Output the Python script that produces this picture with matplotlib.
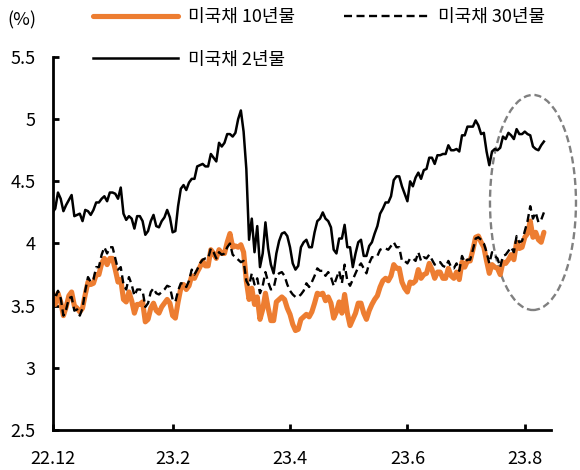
import numpy as np
import pandas as pd
import matplotlib
matplotlib.use('Agg')
import matplotlib.pyplot as plt
from matplotlib.patches import Ellipse

plt.rcParams['font.family'] = ['Noto Sans CJK KR', 'DejaVu Sans']

# daily (weekday) yields, Dec 2022 - Aug 10 2023, by month
dec2 = [4.25, 4.28, 4.41, 4.36, 4.26, 4.31, 4.35, 4.39, 4.22, 4.23, 4.24, 4.18, 4.27, 4.26, 4.23, 4.27, 4.33, 4.33, 4.36, 4.38, 4.34, 4.41]
jan2 = [4.41, 4.40, 4.36, 4.45, 4.24, 4.19, 4.22, 4.20, 4.12, 4.22, 4.22, 4.18, 4.07, 4.10, 4.18, 4.23, 4.14, 4.13, 4.18, 4.21, 4.27, 4.21]
feb2 = [4.09, 4.10, 4.30, 4.44, 4.47, 4.43, 4.49, 4.52, 4.52, 4.62, 4.63, 4.64, 4.62, 4.62, 4.72, 4.69, 4.66, 4.81, 4.78, 4.81]
mar2 = [4.88, 4.88, 4.86, 4.89, 5.00, 5.07, 4.90, 4.60, 4.03, 4.20, 3.93, 4.14, 3.81, 3.92, 4.17, 3.96, 3.83, 3.76, 3.92, 4.02, 4.08, 4.09, 4.06]
apr2 = [3.97, 3.84, 3.79, 3.82, 3.97, 4.01, 4.03, 3.97, 3.97, 4.09, 4.18, 4.20, 4.25, 4.20, 4.18, 4.13, 3.95, 3.92, 4.04, 4.04]
may2 = [4.15, 3.97, 3.97, 3.81, 3.92, 4.01, 4.03, 3.90, 3.90, 3.98, 4.01, 4.08, 4.14, 4.24, 4.28, 4.33, 4.33, 4.38, 4.51, 4.54, 4.54, 4.46, 4.40]
jun2 = [4.34, 4.50, 4.46, 4.53, 4.57, 4.52, 4.59, 4.60, 4.69, 4.69, 4.64, 4.71, 4.71, 4.72, 4.72, 4.79, 4.75, 4.75, 4.76, 4.74, 4.87, 4.87]
jul2 = [4.94, 4.94, 4.94, 4.99, 4.95, 4.88, 4.89, 4.74, 4.63, 4.74, 4.76, 4.75, 4.77, 4.86, 4.84, 4.89, 4.87, 4.84, 4.92, 4.88, 4.88]
aug2 = [4.90, 4.88, 4.87, 4.78, 4.76, 4.75, 4.79, 4.82]

dec10 = [3.53, 3.51, 3.60, 3.53, 3.42, 3.49, 3.58, 3.61, 3.50, 3.48, 3.45, 3.48, 3.59, 3.69, 3.67, 3.68, 3.75, 3.75, 3.84, 3.88, 3.83, 3.88]
jan10 = [3.88, 3.79, 3.69, 3.71, 3.55, 3.53, 3.61, 3.54, 3.44, 3.51, 3.51, 3.53, 3.37, 3.39, 3.48, 3.52, 3.46, 3.44, 3.49, 3.52, 3.55, 3.52]
feb10 = [3.42, 3.40, 3.53, 3.64, 3.67, 3.63, 3.66, 3.74, 3.72, 3.77, 3.81, 3.86, 3.82, 3.82, 3.95, 3.92, 3.88, 3.95, 3.92, 3.92]
mar10 = [4.01, 4.08, 3.97, 3.98, 3.97, 3.99, 3.93, 3.70, 3.55, 3.64, 3.51, 3.57, 3.39, 3.47, 3.60, 3.48, 3.38, 3.38, 3.53, 3.55, 3.57, 3.55, 3.48]
apr10 = [3.43, 3.35, 3.30, 3.31, 3.39, 3.41, 3.43, 3.41, 3.45, 3.52, 3.60, 3.59, 3.60, 3.54, 3.57, 3.52, 3.40, 3.45, 3.53, 3.44]
may10 = [3.59, 3.44, 3.34, 3.39, 3.44, 3.52, 3.52, 3.44, 3.39, 3.46, 3.51, 3.55, 3.58, 3.65, 3.70, 3.72, 3.70, 3.74, 3.83, 3.80, 3.80, 3.69, 3.64]
jun10 = [3.61, 3.69, 3.68, 3.70, 3.79, 3.72, 3.75, 3.76, 3.84, 3.79, 3.72, 3.77, 3.77, 3.72, 3.72, 3.80, 3.74, 3.72, 3.77, 3.71, 3.85, 3.81]
jul10 = [3.86, 3.86, 3.95, 4.05, 4.06, 4.01, 3.97, 3.86, 3.76, 3.83, 3.81, 3.80, 3.75, 3.85, 3.84, 3.87, 3.91, 3.87, 4.01, 3.96, 3.97]
aug10 = [4.05, 4.08, 4.18, 4.05, 4.09, 4.03, 4.01, 4.09]

dec30 = [3.64, 3.56, 3.62, 3.56, 3.42, 3.47, 3.56, 3.57, 3.46, 3.47, 3.42, 3.48, 3.62, 3.73, 3.69, 3.71, 3.81, 3.81, 3.91, 3.97, 3.92, 3.97]
jan30 = [3.97, 3.88, 3.79, 3.81, 3.67, 3.63, 3.73, 3.67, 3.58, 3.63, 3.63, 3.62, 3.49, 3.52, 3.61, 3.64, 3.60, 3.59, 3.61, 3.63, 3.66, 3.65]
feb30 = [3.55, 3.53, 3.62, 3.68, 3.68, 3.65, 3.70, 3.79, 3.75, 3.79, 3.84, 3.87, 3.88, 3.88, 3.96, 3.93, 3.88, 3.93, 3.91, 3.92]
mar30 = [3.97, 4.00, 3.91, 3.89, 3.87, 3.85, 3.86, 3.70, 3.66, 3.76, 3.67, 3.72, 3.60, 3.66, 3.77, 3.69, 3.63, 3.64, 3.74, 3.76, 3.77, 3.74, 3.67]
apr30 = [3.62, 3.59, 3.57, 3.57, 3.59, 3.62, 3.68, 3.65, 3.69, 3.74, 3.80, 3.78, 3.78, 3.74, 3.77, 3.73, 3.66, 3.72, 3.78, 3.68]
may30 = [3.83, 3.70, 3.66, 3.71, 3.76, 3.81, 3.84, 3.80, 3.76, 3.84, 3.89, 3.89, 3.90, 3.95, 3.96, 3.96, 3.95, 3.98, 4.01, 3.97, 3.97, 3.86, 3.86]
jun30 = [3.84, 3.88, 3.88, 3.86, 3.93, 3.86, 3.89, 3.88, 3.91, 3.87, 3.83, 3.85, 3.85, 3.82, 3.81, 3.86, 3.81, 3.80, 3.84, 3.78, 3.90, 3.85]
jul30 = [3.87, 3.87, 3.95, 4.04, 4.05, 4.03, 4.00, 3.93, 3.84, 3.93, 3.90, 3.88, 3.81, 3.90, 3.91, 3.94, 3.97, 3.93, 4.06, 4.01, 4.02]
aug30 = [4.10, 4.18, 4.30, 4.20, 4.25, 4.17, 4.19, 4.25]

y2 = np.array(dec2 + jan2 + feb2 + mar2 + apr2 + may2 + jun2 + jul2 + aug2)
y10 = np.array(dec10 + jan10 + feb10 + mar10 + apr10 + may10 + jun10 + jul10 + aug10)
y30 = np.array(dec30 + jan30 + feb30 + mar30 + apr30 + may30 + jun30 + jul30 + aug30)

dates = pd.bdate_range('2022-12-01', '2023-08-10')
x = np.arange(len(dates))

tick_months = [(2022, 12), (2023, 2), (2023, 4), (2023, 6), (2023, 8)]
tick_pos = [int(np.argmax((dates.year == yy) & (dates.month == mm))) for yy, mm in tick_months]
tick_lab = [f"{yy % 100}.{mm}" for yy, mm in tick_months]

fig = plt.figure(figsize=(5.8, 4.7), dpi=100)
ax = fig.add_axes([52.5 / 580, 1 - 430 / 470, (551 - 52.5) / 580, (430 - 57) / 470])

h10, = ax.plot(x, y10, color='#ED7D31', lw=3.7, solid_joinstyle='round',
               solid_capstyle='round', label='미국채 10년물')
h30, = ax.plot(x, y30, color='black', lw=1.7, ls=(0, (3.4, 1.9)), label='미국채 30년물')
h2, = ax.plot(x, y2, color='black', lw=1.8, label='미국채 2년물')

# highlight recent move
ax.add_patch(Ellipse((176, 4.33), 31.5, 1.73, fill=False, edgecolor='#808080',
                     lw=1.7, ls=(0, (3, 1.6)), clip_on=False))

ax.set_xlim(0, 182.6)
ax.set_ylim(2.5, 5.5)
ax.set_xticks(tick_pos)
ax.set_xticklabels(tick_lab)
ax.set_yticks([2.5, 3, 3.5, 4, 4.5, 5, 5.5])
ax.set_yticklabels(['2.5', '3', '3.5', '4', '4.5', '5', '5.5'])

for s in ['top', 'right']:
    ax.spines[s].set_visible(False)
for s in ['left', 'bottom']:
    ax.spines[s].set_linewidth(2)
ax.tick_params(axis='both', direction='in', width=2, length=4.5, labelsize=13)
ax.tick_params(axis='x', pad=14.5)
ax.tick_params(axis='y', pad=12)

fig.text(7 / 580, 1 - 20 / 470, '(%)', fontsize=13, ha='left', va='center')

fig.legend(handles=[h10, h2, h30], ncol=2, loc='upper left',
           bbox_to_anchor=(93 / 580, 1 - 8 / 470), frameon=False, fontsize=13,
           handlelength=4.7, handletextpad=0.55, columnspacing=2.7,
           labelspacing=1.35, borderpad=0, borderaxespad=0)

fig.savefig('out.png', dpi=100)
